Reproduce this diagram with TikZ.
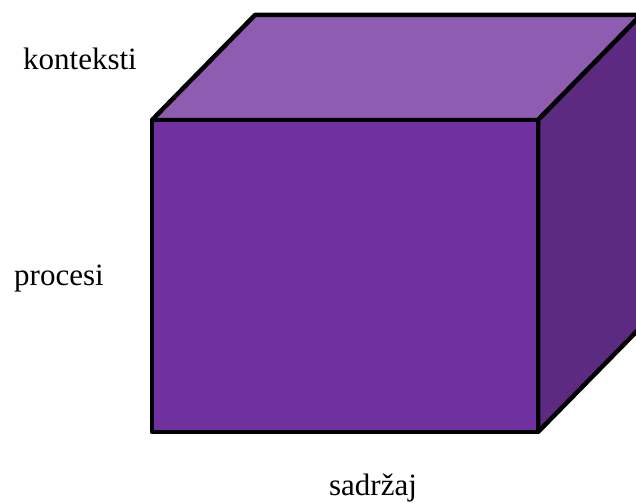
\documentclass[tikz,border=0pt]{standalone}
\usepackage{fontspec}
\setmainfont{Liberation Serif}
\definecolor{frontc}{HTML}{7030A0}
\definecolor{topc}{HTML}{8E5CB0}
\definecolor{sidec}{HTML}{5C2A80}
\begin{document}
\begin{tikzpicture}[x=1pt,y=-1pt,
  face/.style={draw=black,line width=4.5pt,line join=round},
  lbl/.style={font=\fontsize{31}{34}\selectfont,anchor=base,inner sep=0pt}]
\useasboundingbox (0,0) rectangle (636,503);
\clip (0,0) rectangle (636,503);
\coordinate (A) at (152,120);
\coordinate (B) at (538,120);
\coordinate (C) at (538,432);
\coordinate (D) at (152,432);
\coordinate (E) at (255,15);
\coordinate (F) at (641,15);
\coordinate (G) at (641,327);
\draw[face,fill=topc] (A) -- (E) -- (F) -- (B) -- cycle;
\draw[face,fill=sidec] (B) -- (F) -- (G) -- (C) -- cycle;
\draw[face,fill=frontc] (A) -- (B) -- (C) -- (D) -- cycle;
\node[lbl] (kont) at (80,69) {konteksti};
\node[lbl] (proc) at (59,285) {procesi};
\node[lbl] (sadr) at (373,495) {sadržaj};
\end{tikzpicture}
\end{document}
